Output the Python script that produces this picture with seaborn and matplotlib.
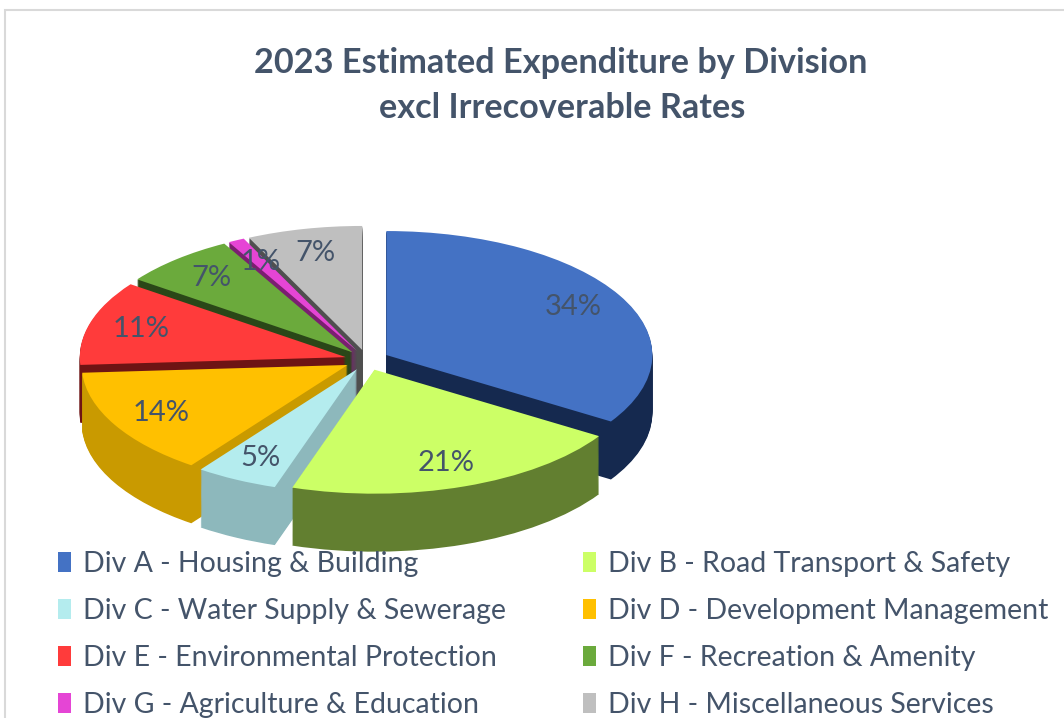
import matplotlib
matplotlib.use("Agg")
import matplotlib.pyplot as plt
import seaborn as sns
from matplotlib.patches import Rectangle, Patch

# ---------------- data ----------------
categories = [
    "Div A - Housing & Building",
    "Div B - Road Transport & Safety",
    "Div C - Water Supply & Sewerage",
    "Div D - Development Management",
    "Div E - Environmental Protection",
    "Div F - Recreation & Amenity",
    "Div G - Agriculture & Education",
    "Div H - Miscellaneous Services",
]
shares = [34, 21, 5, 14, 11, 7, 1, 7]
title_lines = ["2023 Estimated Expenditure by Division", "excl Irrecoverable Rates"]

# ---------------- style ----------------
top_colors = ["#4472C4", "#CCFF66", "#B4ECEE", "#FFC000",
              "#FF3B3B", "#6BAA3C", "#E545D5", "#BFBFBF"]
side_colors = ["#15294F", "#627F30", "#8DB8BC", "#C99A00",
               "#6E1414", "#2A4718", "#7A1F70", "#4F4F4F"]
text_color = "#44546A"

sns.set_theme(style="white")
plt.rcParams["font.family"] = ["Lato", "DejaVu Sans"]

W, H = 1064, 718
fig = plt.figure(figsize=(W / 100, H / 100), dpi=100)
ax = fig.add_axes([0, 0, 1, 1])

# pie geometry in pixels (centre, radii) and extrusion depth
cx, cy, rx, ry = 367, 360, 266, 124
depth = 58 / ry
explode = [0.083] * len(shares)
n_layers = 60

# side walls: stacked darker copies of the pie
for k in range(n_layers, 0, -1):
    ax.pie(shares, colors=side_colors, startangle=90, counterclock=False,
           explode=explode, center=(0, -depth * k / n_layers),
           wedgeprops=dict(linewidth=0), frame=False)

# top surface
wedges, texts, autotexts = ax.pie(
    shares, colors=top_colors, startangle=90, counterclock=False,
    explode=explode, autopct="%1.0f%%", pctdistance=0.8,
    textprops=dict(color=text_color, fontsize=21),
    wedgeprops=dict(linewidth=0), frame=False)

ax.set_aspect("auto")
ax.set_xlim(-cx / rx, (W - cx) / rx)
ax.set_ylim((cy - H) / ry, cy / ry)
ax.axis("off")

# title
fig.text(561 / W, 1 - 63 / H, title_lines[0], ha="center", va="center",
         fontsize=24.7, fontweight="bold", color=text_color)
fig.text(562 / W, 1 - 108 / H, title_lines[1], ha="center", va="center",
         fontsize=24.7, fontweight="bold", color=text_color)

# legend, two columns, filled row-wise
for col, x0 in enumerate([58, 583]):
    idx = list(range(col, len(categories), 2))
    handles = [Patch(facecolor=top_colors[i], edgecolor="none") for i in idx]
    labels = [categories[i] for i in idx]
    fig.legend(handles, labels, loc="upper left",
               bbox_to_anchor=(x0 / W, 1 - 551 / H),
               frameon=False, fontsize=20.5, labelcolor=text_color,
               handlelength=0.46, handleheight=0.7, handletextpad=0.42,
               labelspacing=0.74, borderpad=0, borderaxespad=0)

# chart-area border (top and left visible)
fig.patches.append(Rectangle((5 / W, -0.2), 1.3, 1.2 - 10 / H,
                             transform=fig.transFigure, fill=False,
                             edgecolor="#D9D9D9", linewidth=1.5))

fig.savefig("out.png", dpi=100)
